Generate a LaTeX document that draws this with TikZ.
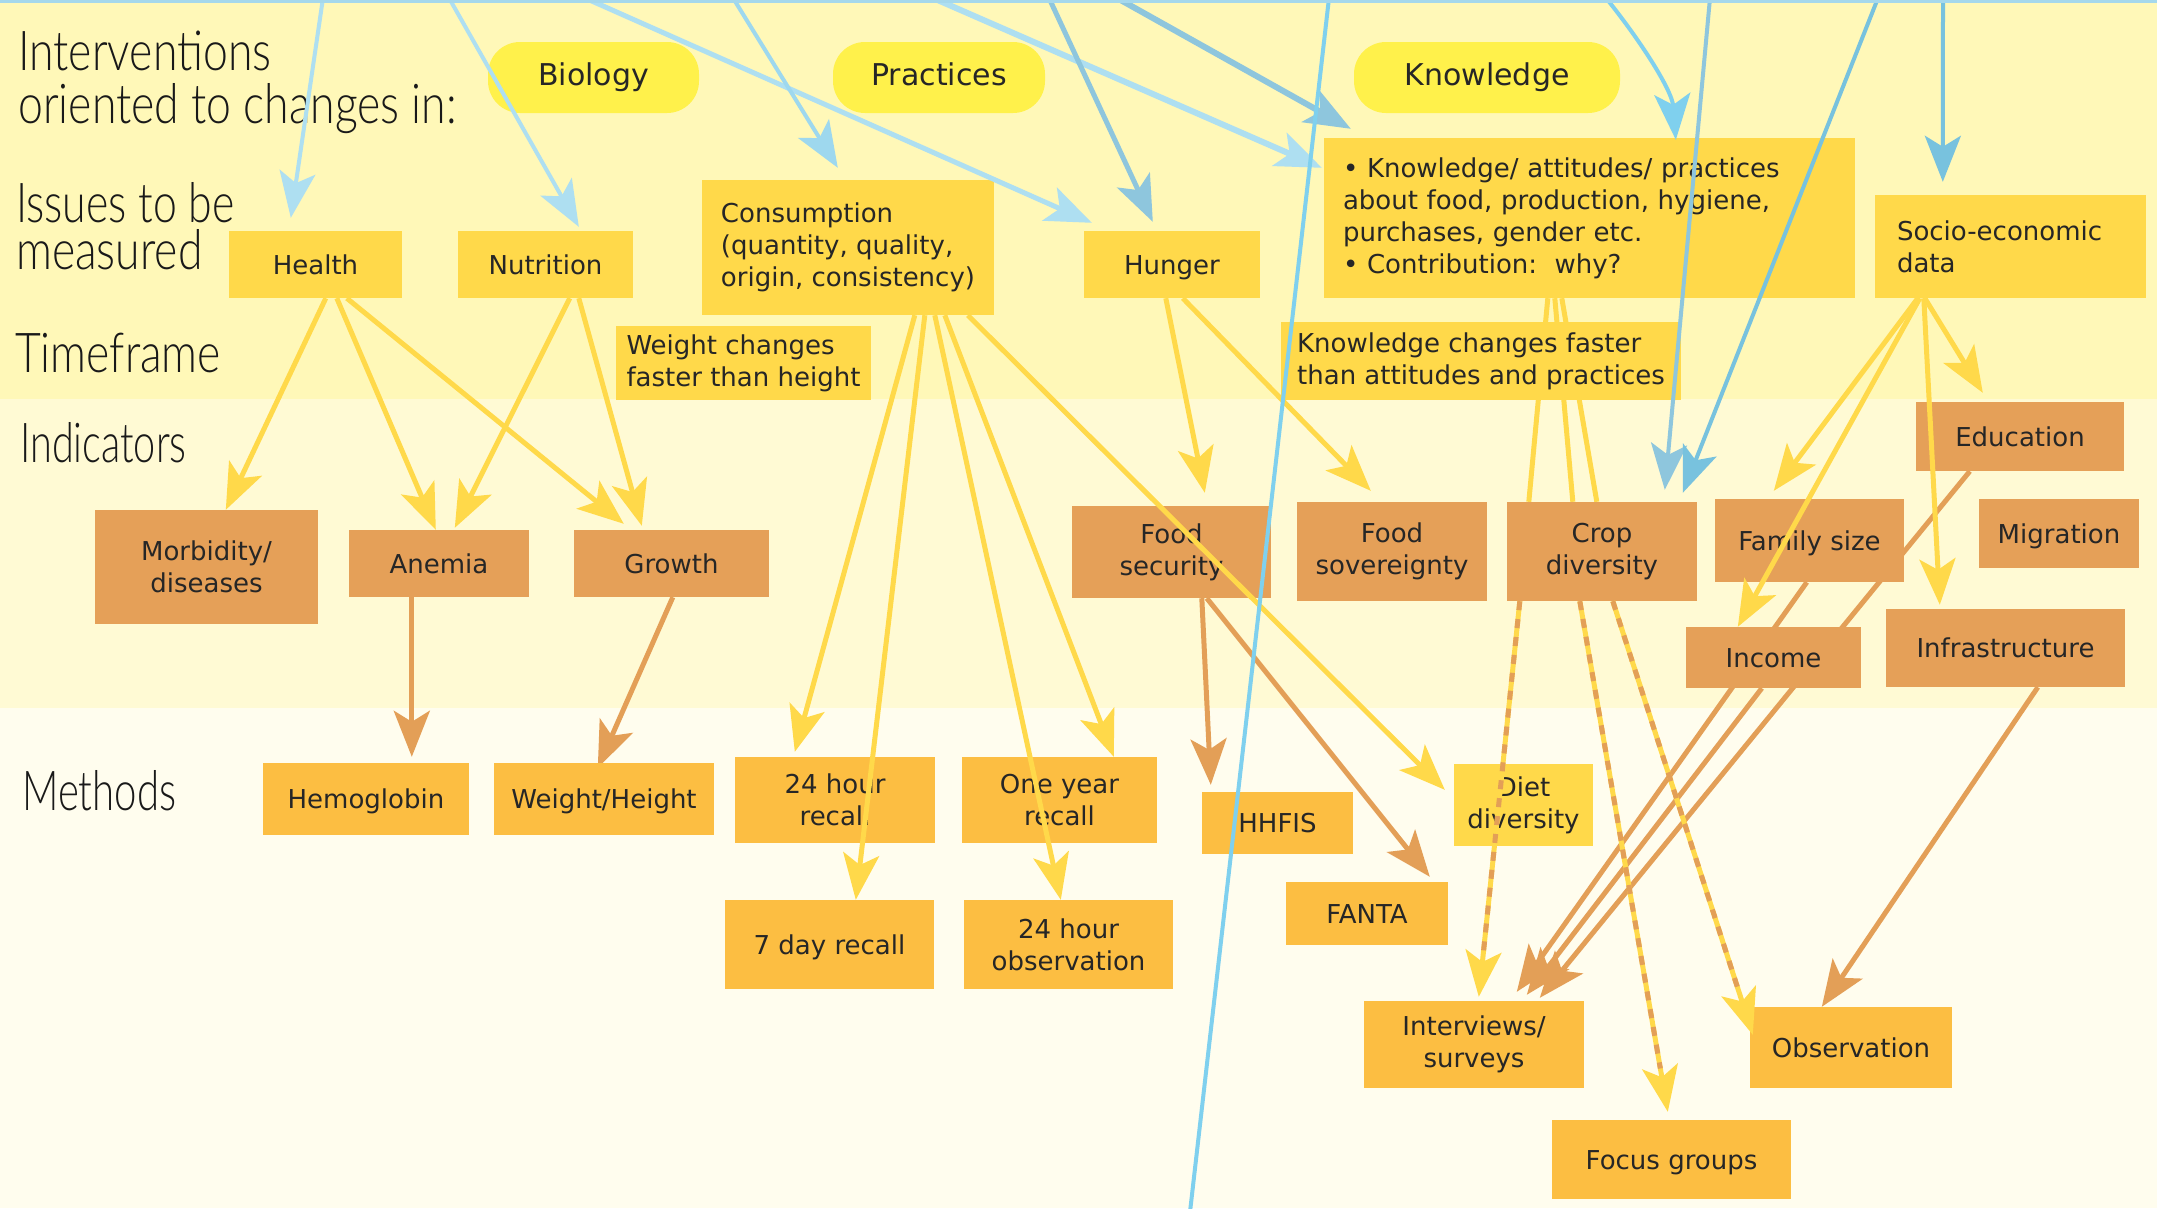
\documentclass[tikz,border=0pt]{standalone}
\usepackage{graphicx}
\usepackage{fontspec}
\setmainfont{DejaVu Sans}
\newfontfamily\hand[FakeStretch=0.81]{Lato Light}
\usetikzlibrary{arrows.meta,calc}
\pgfdeclarelayer{back}
\pgfdeclarelayer{behind}
\pgfsetlayers{back,behind,main}
\definecolor{bandtop}{HTML}{FFF8B8}
\definecolor{bandmid}{HTML}{FFFAD4}
\definecolor{bandbot}{HTML}{FFFDEE}
\definecolor{pillc}{HTML}{FFF14B}
\definecolor{goldc}{HTML}{FFD94A}
\definecolor{indc}{HTML}{E5A058}
\definecolor{methc}{HTML}{FCBE42}
\definecolor{yline}{HTML}{FFD94A}
\definecolor{oline}{HTML}{E39F57}
\definecolor{txtc}{HTML}{262626}
\definecolor{blA}{HTML}{AEDFF1}
\definecolor{blB}{HTML}{9ED8EE}
\definecolor{blC}{HTML}{8EC6DD}
\definecolor{blD}{HTML}{7FD0EE}
\definecolor{blE}{HTML}{78C2DE}
\definecolor{topc}{HTML}{A5D8EC}
\begin{document}
\begin{tikzpicture}[x=1pt,y=-1pt,
  tip/.style={-{Stealth[length=46pt,width=36pt,inset=11pt]}},
  yl/.style={draw=yline, line width=5pt, tip},
  ol/.style={draw=oline, line width=5pt, tip},
  bl/.style={line width=4pt, tip},
  dashov/.style={draw=oline, line width=5pt, dash pattern=on 9pt off 9pt, shorten >=44pt},
  base/.style={draw=none, inner sep=0pt, text=txtc, font=\fontsize{26}{32}\selectfont, align=center},
  sl/.style={text height=19pt, text depth=0pt},
  pill/.style={base, fill=pillc, rounded corners=32pt, font=\fontsize{30}{36}\selectfont, text height=16pt, text depth=0pt},
  issue/.style={base, fill=goldc},
  ind/.style={base, fill=indc},
  meth/.style={base, fill=methc},
  hw/.style={inner sep=0pt, anchor=base west, text=black!90, font=\hand\fontsize{55}{66}\selectfont}
]
\clip (0,0) rectangle (2157,1208);
\begin{pgfonlayer}{back}
\fill[bandtop] (0,0) rectangle (2157,399);
\fill[bandmid] (0,399) rectangle (2157,708);
\fill[bandbot] (0,708) rectangle (2157,1208);
\end{pgfonlayer}

% row labels
\node[hw] (lint1) at (18,70) {Interventions};
\node[hw] (lint2) at (18,123) {oriented to changes in:};
\node[hw] (liss1) at (16,222) {\scalebox{0.96}[1]{Issues to be}};
\node[hw] (liss2) at (16,269) {measured};
\node[hw] (ltime) at (15,372) {Timeframe};
\node[hw] (lind) at (20,462) {\scalebox{0.89}[1]{Indicators}};
\node[hw] (lmeth) at (22,810) {\scalebox{0.9}[1]{Methods}};

% pills
\node[pill, minimum width=211pt, minimum height=71pt] (bio) at (593.5,77.5) {Biology};
\node[pill, minimum width=212pt, minimum height=71pt] (prac) at (939,77.5) {Practices};
\node[pill, minimum width=266pt, minimum height=71pt] (know) at (1487,77.5) {Knowledge};

% issues
\node[issue, sl, minimum width=173pt, minimum height=67pt] (health) at (315.5,264.5) {Health};
\node[issue, sl, minimum width=175pt, minimum height=67pt] (nutr) at (545.5,264.5) {Nutrition};
\node[issue, minimum width=292pt, minimum height=135pt, align=left] (cons) at (848,247.5) {Consumption\\(quantity, quality,\\origin, consistency)};
\node[issue, sl, minimum width=176pt, minimum height=67pt] (hunger) at (1172,264.5) {Hunger};
\node[issue, inner xsep=19pt, text width=493pt, minimum height=160pt, align=left] (kbox) at (1589.5,218) {• Knowledge/ attitudes/ practices\\about food, production, hygiene,\\purchases, gender etc.\\• Contribution:\ \ why?};
\node[issue, inner xsep=22pt, text width=227pt, minimum height=103pt, align=left] (socio) at (2010.5,246.5) {Socio-economic\\data};
\node[issue, minimum width=255pt, minimum height=74pt, align=left] (wnote) at (743.5,363) {Weight changes\\faster than height};
\node[issue, minimum width=400pt, minimum height=78pt, align=left] (knote) at (1481,361) {Knowledge changes faster\\than attitudes and practices};

% indicators
\node[ind, minimum width=223pt, minimum height=114pt] (morb) at (206.5,567) {Morbidity/\\diseases};
\node[ind, sl, minimum width=180pt, minimum height=67pt] (anemia) at (439,563.5) {Anemia};
\node[ind, sl, minimum width=195pt, minimum height=67pt] (growth) at (671.5,563.5) {Growth};
\node[ind, minimum width=199pt, minimum height=92pt] (foodsec) at (1171.5,552) {Food\\security};
\node[ind, minimum width=190pt, minimum height=99pt] (foodsov) at (1392,551.5) {Food\\sovereignty};
\node[ind, minimum width=190pt, minimum height=99pt] (crop) at (1602,551.5) {Crop\\diversity};
\node[ind, sl, minimum width=189pt, minimum height=83pt] (family) at (1809.5,540.5) {Family size};
\node[ind, sl, minimum width=208pt, minimum height=69pt] (edu) at (2020,436.5) {Education};
\node[ind, sl, minimum width=160pt, minimum height=69pt] (migr) at (2059,533.5) {Migration};
\node[ind, sl, minimum width=175pt, minimum height=61pt] (income) at (1773.5,657.5) {Income};
\node[ind, sl, minimum width=239pt, minimum height=78pt] (infra) at (2005.5,648) {Infrastructure};

% methods
\node[meth, sl, minimum width=206pt, minimum height=72pt] (hemo) at (366,799) {Hemoglobin};
\node[meth, sl, minimum width=220pt, minimum height=72pt] (wh) at (604,799) {Weight/Height};
\node[meth, minimum width=200pt, minimum height=86pt] (r24) at (835,800) {24 hour\\recall};
\node[meth, minimum width=195pt, minimum height=86pt] (r1y) at (1059.5,800) {One year\\recall};
\node[meth, sl, minimum width=151pt, minimum height=62pt] (hhfis) at (1277.5,823) {HHFIS};
\node[issue, minimum width=139pt, minimum height=82pt] (diet) at (1523.5,805) {Diet\\diversity};
\node[meth, sl, minimum width=162pt, minimum height=63pt] (fanta) at (1367,913.5) {FANTA};
\node[meth, sl, minimum width=209pt, minimum height=89pt] (r7) at (829.5,944.5) {7 day recall};
\node[meth, minimum width=209pt, minimum height=89pt] (obs24) at (1068.5,944.5) {24 hour\\observation};
\node[meth, minimum width=220pt, minimum height=87pt] (interv) at (1474,1044.5) {Interviews/\\surveys};
\node[meth, sl, minimum width=202pt, minimum height=81pt] (observ) at (1851,1047.5) {Observation};
\node[meth, sl, minimum width=239pt, minimum height=79pt] (focus) at (1671.5,1159.5) {Focus groups};

% connectors that pass behind the boxes
\begin{pgfonlayer}{behind}
\draw[ol] ($(anemia.south west)+(63,0)$) -- ($(hemo.north west)+(149,-6)$);
\draw[ol] ($(growth.south west)+(99,0)$) -- ($(wh.north west)+(104,5)$);
\draw[ol] ($(foodsec.south west)+(130,0)$) -- ($(hhfis.north west)+(9,-7)$);
\draw[ol] ($(foodsec.south west)+(135,0)$) -- ($(fanta.north west)+(144,-5)$);
\draw[ol] ($(infra.south west)+(152,0)$) -- ($(observ.north west)+(72,0)$);
\draw[ol] ($(edu.south west)+(54,0)$) -- ($(interv.north west)+(176,-3)$);
\draw[ol] ($(family.south west)+(92,0)$) -- ($(interv.north west)+(153,-9)$);
\draw[ol] ($(income.south west)+(76,0)$) -- ($(interv.north west)+(163,-6)$);
\draw[yl, -] ($(kbox.south west)+(224,0)$) -- ($(crop.north west)+(22,0)$);
\draw[yl, -] ($(kbox.south west)+(231,0)$) -- ($(crop.north west)+(66,0)$);
\draw[yl, -] ($(kbox.south west)+(238,0)$) -- ($(crop.north west)+(90,0)$);
\end{pgfonlayer}

% yellow connectors
\draw[yl] ($(health.south west)+(97,0)$) -- ($(morb.north west)+(131,0)$);
\draw[yl] ($(health.south west)+(108,0)$) -- ($(anemia.north west)+(87,0)$);
\draw[yl] ($(health.south west)+(118,0)$) -- ($(growth.north west)+(50,-6)$);
\draw[yl] ($(nutr.south west)+(112,0)$) -- ($(anemia.north west)+(106,-2)$);
\draw[yl] ($(nutr.south west)+(121,0)$) -- ($(growth.north west)+(68,-4)$);
\draw[yl] ($(cons.south west)+(213,0)$) -- ($(r24.north west)+(60,-5)$);
\draw[yl] ($(cons.south west)+(223,0)$) -- ($(r7.north west)+(131,0)$);
\draw[yl] ($(cons.south west)+(233,0)$) -- ($(obs24.north west)+(97,0)$);
\draw[yl] ($(cons.south west)+(243,0)$) -- ($(r1y.north west)+(152,0)$);
\draw[yl] ($(cons.south west)+(266,0)$) -- ($(diet.north west)+(-9,26)$);
\draw[yl] ($(hunger.south west)+(82,0)$) -- ($(foodsec.north west)+(133,-13)$);
\draw[yl] ($(hunger.south west)+(99,0)$) -- ($(foodsov.north west)+(74,-11)$);
\draw[yl] ($(socio.south west)+(50,0)$) -- ($(edu.north west)+(67,-9)$);
\draw[yl] ($(socio.south west)+(43,0)$) -- ($(family.north west)+(59,-8)$);
\draw[yl] ($(socio.south west)+(45,0)$) -- ($(income.north west)+(52,0)$);
\draw[yl] ($(socio.south west)+(49,0)$) -- ($(infra.north west)+(54,-4)$);
% crop diversity -> methods (yellow with orange dashes)
\draw[yl] ($(crop.south west)+(13,0)$) -- ($(interv.north west)+(115,-4)$);
\draw[yl] ($(crop.south west)+(73,0)$) -- ($(focus.north west)+(116,-8)$);
\draw[yl] ($(crop.south west)+(106,0)$) -- ($(observ.north west)+(3,28)$);
\draw[dashov] ($(crop.south west)+(13,0)$) -- ($(interv.north west)+(115,-4)$);
\draw[dashov] ($(crop.south west)+(73,0)$) -- ($(focus.north west)+(116,-8)$);
\draw[dashov] ($(crop.south west)+(106,0)$) -- ($(observ.north west)+(3,28)$);

% blue connectors from above
\coordinate (t1) at (323,-2);
\coordinate (t2) at (449,-2);
\coordinate (t3) at (585,-2);
\coordinate (t4) at (733,-2);
\coordinate (t5) at (933,-2);
\coordinate (t6) at (1049,-2);
\coordinate (t7) at (1117,-2);
\coordinate (t8) at (1329,-2);
\coordinate (e8) at (1190,1212);
\coordinate (t9) at (1606,-2);
\coordinate (t10) at (1710,-2);
\coordinate (t11) at (1878,-2);
\coordinate (t12) at (1943,-2);
\draw[bl, draw=blA] (t1) -- ($(health.north west)+(62,-13)$);
\draw[bl, draw=blA] (t2) -- ($(nutr.north west)+(121,-4)$);
\draw[bl, draw=blA, line width=5pt] (t3) -- ($(hunger.north west)+(8,-8)$);
\draw[bl, draw=blB] (t4) -- ($(cons.north west)+(136,-12)$);
\draw[bl, draw=blA, line width=6pt] (t5) -- ($(kbox.north west)+(-2,30)$);
\draw[bl, draw=blC, line width=5pt] (t6) -- ($(hunger.north west)+(69,-9)$);
\draw[bl, draw=blC, line width=6pt] (t7) -- ($(kbox.north west)+(27,-9)$);
\draw[line width=4pt, draw=blD] (t8) -- (e8);
\draw[bl, draw=blD] (t9) .. controls (1640,40) and (1672,90) .. ($(kbox.north west)+(352,2)$);
\draw[bl, draw=blC] (t10) -- ($(crop.north west)+(158,-12)$);
\draw[bl, draw=blE] (t11) -- ($(crop.north west)+(176,-9)$);
\draw[bl, draw=blE] (t12) -- ($(socio.north west)+(68,-13)$);
\draw[draw=topc, line width=3pt] (0,1) -- (2157,1);
\end{tikzpicture}
\end{document}
